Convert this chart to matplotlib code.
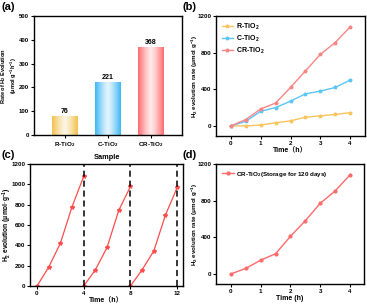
import numpy as np
import matplotlib
matplotlib.use("Agg")
import matplotlib.pyplot as plt
from matplotlib.colors import to_rgb

plt.rcParams['font.family'] = ['Liberation Sans', 'Noto Sans CJK SC', 'DejaVu Sans']
plt.rcParams['font.weight'] = 'bold'
plt.rcParams['axes.labelweight'] = 'bold'
plt.rcParams['mathtext.fontset'] = 'custom'
plt.rcParams['mathtext.rm'] = 'Liberation Sans:bold'
plt.rcParams['mathtext.it'] = 'Liberation Sans:bold'
plt.rcParams['mathtext.bf'] = 'Liberation Sans:bold'
plt.rcParams['mathtext.default'] = 'regular'
plt.rcParams['xtick.direction'] = 'out'
plt.rcParams['ytick.direction'] = 'out'

# ---- data ----
samples = ["R-TiO$_2$", "C-TiO$_2$", "CR-TiO$_2$"]
rates = [76, 221, 368]
bar_colors = ["#F2C14E", "#3DB7F5", "#FF6B6E"]

time_b = [0, 0.5, 1, 1.5, 2, 2.5, 3, 3.5, 4]
r_tio2 = [0, 0, 10, 35, 55, 95, 110, 125, 145]
c_tio2 = [0, 50, 160, 200, 270, 350, 380, 420, 500]
cr_tio2 = [0, 70, 185, 250, 420, 600, 780, 910, 1080]
line_colors = ["#F9C45E", "#5CC6F7", "#F98585"]

cycle_time = [[0, 1, 2, 3, 4], [4, 5, 6, 7, 8], [8, 9, 10, 11, 12]]
cycle_h2 = [[0, 185, 420, 780, 1080], [0, 160, 380, 745, 980], [0, 160, 345, 700, 970]]
cycle_bounds = [4, 8, 12]

time_d = [0, 0.5, 1, 1.5, 2, 2.5, 3, 3.5, 4]
stored = [0, 60, 150, 220, 410, 580, 770, 905, 1080]

tfs = 4.5
lfs = 5.0

fig = plt.figure(figsize=(3.67, 3.07), dpi=100)

def style(ax):
    for s in ax.spines.values():
        s.set_linewidth(1.0)
    ax.tick_params(labelsize=tfs, width=0.8, length=2.0, pad=1.5)

def place_ylabel(ax, xpos):
    ax.yaxis.set_label_coords(xpos, 0.5)
    ax.yaxis.label.set_rotation_mode('default')
    ax.yaxis.label.set_va('center')
    ax.yaxis.label.set_ha('center')

# ---- (a) ----
ax = fig.add_axes([0.092, 0.560, 0.404, 0.388])
style(ax)
ax.tick_params(axis='y', labelsize=4.3)
x = np.arange(len(samples))
w = 0.6
bars = ax.bar(x, rates, width=w, color='none', edgecolor='none')
grad = np.abs(np.linspace(-1, 1, 64))
for b, c, v in zip(bars, bar_colors, rates):
    rgb = np.array(to_rgb(c))
    t = np.clip(grad ** 1.3, 0, 1)
    img = t[:, None] * rgb + (1 - t)[:, None] * (0.85 * np.ones(3) + 0.15 * rgb)
    img = img[None, :, :]
    ax.imshow(img, extent=(b.get_x(), b.get_x() + b.get_width(), 0, b.get_height()),
              aspect='auto', zorder=2, interpolation='bilinear')
    ax.text(b.get_x() + b.get_width() / 2, v + 8, str(v), ha='center', va='bottom',
            fontsize=5.0, fontweight='bold')
ax.set_xlim(-0.72, 2.72)
ax.set_ylim(0, 500)
ax.set_xticks(x)
ax.set_xticklabels(samples)
ax.set_yticks([0, 100, 200, 300, 400, 500])
ax.set_ylabel("Rate of H$_2$ Evolution\n(μmol g$^{-1}$h$^{-1}$)", fontsize=4.1, linespacing=1.05)
place_ylabel(ax, -0.165)
fig.text(0.005, 0.995, "(a)", fontsize=8, fontweight='bold', va='top')

# ---- (b) ----
ax = fig.add_axes([0.5886, 0.557, 0.406, 0.391])
style(ax)
for ys, c, lab in zip([r_tio2, c_tio2, cr_tio2], line_colors, samples):
    ax.plot(time_b, ys, color=c, lw=1.0, marker='*', ms=2.6, label=lab)
ax.set_xlim(-0.5, 4.5)
ax.set_ylim(-110, 1200)
ax.set_xticks([0, 1, 2, 3, 4])
ax.set_yticks([0, 400, 800, 1200])
ax.set_xlabel("Time（h）", fontsize=lfs, labelpad=1)
ax.set_ylabel("H$_2$ evolution rate (μmol g$^{-1}$)", fontsize=4.5)
place_ylabel(ax, -0.14)
ax.legend(loc='upper left', fontsize=5.0, frameon=False, handlelength=1.7,
          borderaxespad=0.4, labelspacing=0.25, handletextpad=0.4)
fig.text(0.497, 0.995, "(b)", fontsize=8, fontweight='bold', va='top')

# ---- (c) ----
ax = fig.add_axes([0.0817, 0.0684, 0.417, 0.397])
style(ax)
for tt, hh in zip(cycle_time, cycle_h2):
    ax.plot(tt, hh, color="#FF4D4D", lw=0.9, marker='*', ms=3.0)
for xb in cycle_bounds:
    ax.axvline(xb, color='black', lw=1.1, ls=(0, (4, 2.5)))
ax.set_xlim(-0.6, 12.5)
ax.set_ylim(0, 1200)
ax.set_xticks([0, 4, 8, 12])
ax.set_yticks(np.arange(0, 1201, 200))
ax.set_xlabel("Time（h）", fontsize=lfs, labelpad=1)
ax.set_ylabel("H$_2$ evolution (μmol·g$^{-1}$)", fontsize=4.8)
place_ylabel(ax, -0.15)
ax.set_title("Sample", fontsize=5.3, fontweight='bold', pad=4)
fig.text(0.005, 0.51, "(c)", fontsize=8, fontweight='bold', va='top')

# ---- (d) ----
ax = fig.add_axes([0.5886, 0.0749, 0.403, 0.391])
style(ax)
ax.plot(time_d, stored, color="#FF6A6A", lw=1.0, marker='o', ms=2.0,
        label="CR-TiO$_2$(Storage for 120 days)")
ax.set_xlim(-0.5, 4.47)
ax.set_ylim(-110, 1200)
ax.set_xticks([0, 1, 2, 3, 4])
ax.set_yticks([0, 400, 800, 1200])
ax.set_xlabel("Time (h)", fontsize=lfs, labelpad=1)
ax.set_ylabel("H$_2$ evolution rate (μmol g$^{-1}$)", fontsize=4.5)
place_ylabel(ax, -0.14)
ax.legend(loc='upper left', fontsize=4.5, frameon=False, handlelength=1.9,
          borderaxespad=0.5, handletextpad=0.4)
fig.text(0.497, 0.51, "(d)", fontsize=8, fontweight='bold', va='top')

fig.savefig("out.png", dpi=100)
